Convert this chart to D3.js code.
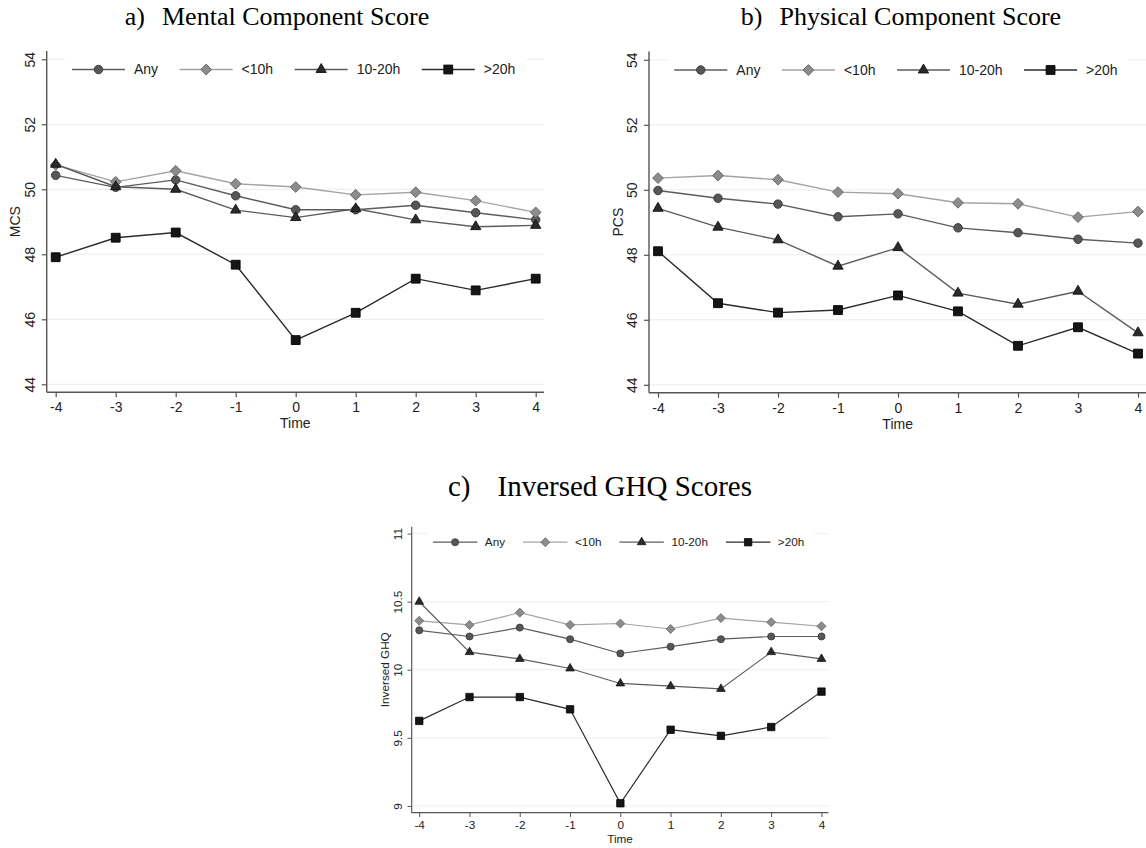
<!DOCTYPE html>
<html>
<head>
<meta charset="utf-8">
<script src="https://cdn.jsdelivr.net/npm/d3@7"></script>
<style>
  body { margin: 0; background: #fff; }
  text { font-family: Arial, 'Liberation Sans', sans-serif; fill: #222; }
  .title { font-family: 'Times New Roman', 'Liberation Serif', serif; fill: #000; }
</style>
</head>
<body>
<svg id="chart" width="1146" height="848"></svg>
<script>
const times = [-4, -3, -2, -1, 0, 1, 2, 3, 4]
const groups = ['Any', '<10h', '10-20h', '>20h']

// a) Mental Component Score
const mcsAny = [50.43, 50.06, 50.29, 49.8, 49.37, 49.37, 49.51, 49.28, 49.06]
const mcsUnder10 = [50.75, 50.23, 50.57, 50.17, 50.07, 49.83, 49.91, 49.65, 49.29]
const mcs10to20 = [50.77, 50.08, 50.0, 49.36, 49.13, 49.4, 49.06, 48.85, 48.89]
const mcsOver20 = [47.91, 48.51, 48.67, 47.68, 45.36, 46.2, 47.25, 46.89, 47.25]

// b) Physical Component Score
const pcsAny = [49.98, 49.74, 49.56, 49.17, 49.26, 48.83, 48.68, 48.48, 48.36]
const pcsUnder10 = [50.36, 50.44, 50.31, 49.93, 49.88, 49.6, 49.57, 49.16, 49.33]
const pcs10to20 = [49.43, 48.85, 48.46, 47.65, 48.22, 46.82, 46.48, 46.88, 45.6]
const pcsOver20 = [48.11, 46.51, 46.22, 46.3, 46.75, 46.26, 45.2, 45.77, 44.96]

// c) Inversed GHQ
const ghqAny = [10.29, 10.245, 10.31, 10.225, 10.12, 10.17, 10.225, 10.245, 10.245]
const ghqUnder10 = [10.36, 10.33, 10.42, 10.33, 10.34, 10.3, 10.38, 10.35, 10.32]
const ghq10to20 = [10.5, 10.13, 10.08, 10.01, 9.9, 9.88, 9.86, 10.13, 10.08]
const ghqOver20 = [9.625, 9.8, 9.8, 9.71, 9.02, 9.56, 9.515, 9.58, 9.84]

const sfTicks = [44, 46, 48, 50, 52, 54]
const ghqTicks = [9, 9.5, 10, 10.5, 11]

// marker / line look per group
const styles = {
  'Any': { line: '#5c5c5c', fill: '#575757', stroke: '#333', type: d3.symbolCircle, size: 56, rotate: 0 },
  '<10h': { line: '#a3a3a3', fill: '#8c8c8c', stroke: '#666', type: d3.symbolSquare, size: 58, rotate: 45 },
  '10-20h': { line: '#5c5c5c', fill: '#2a2a2a', stroke: '#111', type: d3.symbolTriangle, size: 46, rotate: 0 },
  '>20h': { line: '#2a2a2a', fill: '#151515', stroke: '#000', type: d3.symbolSquare, size: 78, rotate: 0 }
}

const svg = d3.select('#chart')

// base panel size (panel c is the same panel scaled down)
const W = 497.3
const H = 341.3

function drawPanel (opts) {
  const g = svg.append('g')
    .attr('transform', `translate(${opts.left},${opts.top}) scale(${opts.k})`)

  const x = d3.scaleLinear().domain([-4, 4]).range([9, 489])
  const y = d3.scaleLinear()
    .domain([opts.ticks[0], opts.ticks[opts.ticks.length - 1]])
    .range([333.3, 8.3])

  // gridlines
  g.append('g').selectAll('line')
    .data(opts.ticks)
    .join('line')
    .attr('x1', 0).attr('x2', W)
    .attr('y1', d => y(d)).attr('y2', d => y(d))
    .attr('stroke', '#ececec')
    .attr('stroke-width', 1)

  // y axis
  g.append('g')
    .call(d3.axisLeft(y).tickValues(opts.ticks).tickSize(5).tickSizeOuter(0).tickFormat(d => String(d)))
    .call(a => a.select('.domain').remove())
    .call(a => a.selectAll('line').attr('stroke', '#555').attr('stroke-width', 1.2))
    .call(a => a.selectAll('text')
      .attr('transform', 'rotate(-90)')
      .attr('x', 0).attr('y', -16.7).attr('dy', '0.35em')
      .attr('text-anchor', 'middle')
      .style('font-size', '14px')
      .style('font-family', 'Arial, "Liberation Sans", sans-serif')
      .attr('fill', '#222'))

  // x axis
  g.append('g')
    .attr('transform', `translate(0,${H})`)
    .call(d3.axisBottom(x).tickValues(times).tickSize(5).tickSizeOuter(0).tickFormat(d => String(d)))
    .call(a => a.select('.domain').remove())
    .call(a => a.selectAll('line').attr('stroke', '#555').attr('stroke-width', 1.2))
    .call(a => a.selectAll('text')
      .attr('y', 10)
      .style('font-size', '14px')
      .style('font-family', 'Arial, "Liberation Sans", sans-serif')
      .attr('fill', '#222'))

  // axis lines
  g.append('line')
    .attr('x1', 0).attr('x2', 0).attr('y1', 0).attr('y2', H)
    .attr('stroke', '#555').attr('stroke-width', 1.4)
  g.append('line')
    .attr('x1', 0).attr('x2', W).attr('y1', H).attr('y2', H)
    .attr('stroke', '#555').attr('stroke-width', 1.4)

  // axis titles
  g.append('text')
    .attr('transform', `translate(-31.4,${H / 2}) rotate(-90)`)
    .attr('dy', '0.35em')
    .attr('text-anchor', 'middle')
    .style('font-size', '14px')
    .text(opts.ylabel)

  g.append('text')
    .attr('x', W / 2)
    .attr('y', 377)
    .attr('text-anchor', 'middle')
    .style('font-size', '14px')
    .text('Time')

  // series
  const line = d3.line()
    .x((d, i) => x(times[i]))
    .y(d => y(d))

  opts.series.forEach((vals, si) => {
    const st = styles[groups[si]]
    g.append('path')
      .datum(vals)
      .attr('d', line)
      .attr('fill', 'none')
      .attr('stroke', st.line)
      .attr('stroke-width', 1.4)

    g.append('g').selectAll('path')
      .data(vals)
      .join('path')
      .attr('d', d3.symbol().type(st.type).size(st.size))
      .attr('transform', (d, i) => `translate(${x(times[i])},${y(d)}) rotate(${st.rotate})`)
      .attr('fill', st.fill)
      .attr('stroke', st.stroke)
      .attr('stroke-width', 0.9)
  })

  // legend (white box hides the top gridline)
  const leg = g.append('g')
  leg.append('rect')
    .attr('x', 18).attr('y', 4)
    .attr('width', 462).attr('height', 29)
    .attr('fill', '#fff')

  let cx = 25.3
  const ly = 18.5
  groups.forEach(name => {
    const st = styles[name]
    leg.append('line')
      .attr('x1', cx).attr('x2', cx + 53)
      .attr('y1', ly).attr('y2', ly)
      .attr('stroke', st.line)
      .attr('stroke-width', 1.4)
    leg.append('path')
      .attr('d', d3.symbol().type(st.type).size(st.size)())
      .attr('transform', `translate(${cx + 26.5},${ly}) rotate(${st.rotate})`)
      .attr('fill', st.fill)
      .attr('stroke', st.stroke)
      .attr('stroke-width', 0.9)
    const t = leg.append('text')
      .attr('x', cx + 62)
      .attr('y', ly)
      .attr('dy', '0.35em')
      .style('font-size', '14px')
      .text(name)
    cx = cx + 62 + t.node().getComputedTextLength() + 21.5
  })

  // panel title
  const title = svg.append('text')
    .attr('class', 'title')
    .attr('x', opts.titleX)
    .attr('y', opts.titleY)
    .attr('text-anchor', 'middle')
    .style('font-size', opts.titleSize + 'px')
  title.append('tspan').text(opts.label)
  title.append('tspan').attr('dx', opts.titleGap).text(opts.title)
}

drawPanel({
  label: 'a)', title: 'Mental Component Score', ylabel: 'MCS',
  ticks: sfTicks, series: [mcsAny, mcsUnder10, mcs10to20, mcsOver20],
  left: 46.7, top: 51, k: 1,
  titleX: 277, titleY: 25, titleSize: 26, titleGap: 17
})

drawPanel({
  label: 'b)', title: 'Physical Component Score', ylabel: 'PCS',
  ticks: sfTicks, series: [pcsAny, pcsUnder10, pcs10to20, pcsOver20],
  left: 649, top: 51.5, k: 1,
  titleX: 901, titleY: 25, titleSize: 26, titleGap: 17
})

drawPanel({
  label: 'c)', title: 'Inversed GHQ Scores', ylabel: 'Inversed GHQ',
  ticks: ghqTicks, series: [ghqAny, ghqUnder10, ghq10to20, ghqOver20],
  left: 411.7, top: 526.7, k: 0.838,
  titleX: 600, titleY: 496, titleSize: 29, titleGap: 27
})
</script>
</body>
</html>
